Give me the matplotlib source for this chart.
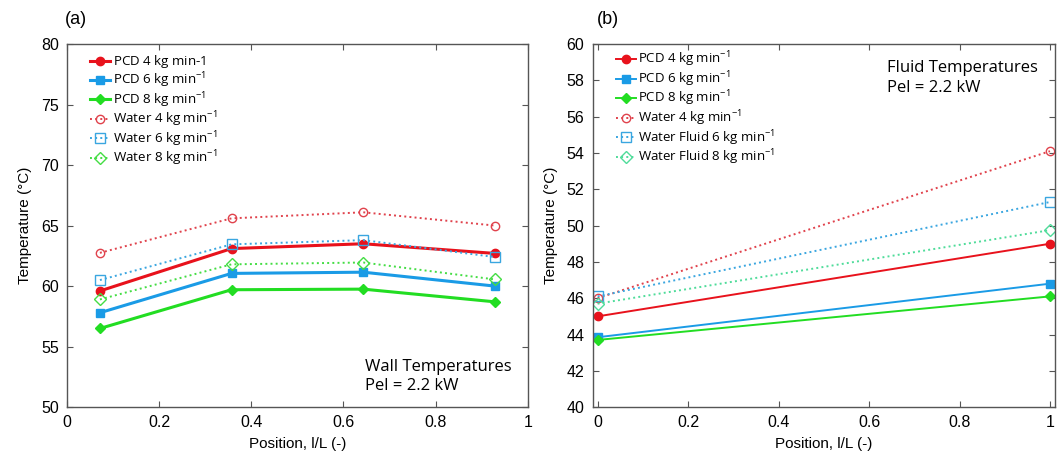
import numpy as np
import matplotlib
matplotlib.use('Agg')
import matplotlib.pyplot as plt

plt.rcParams['font.family'] = ['Liberation Sans', 'DejaVu Sans']
plt.rcParams['mathtext.fontset'] = 'custom'
plt.rcParams['mathtext.rm'] = 'Open Sans'
plt.rcParams['mathtext.it'] = 'Open Sans'

# wall temperatures along the tube (a)
pos_wall = [0.0714, 0.357, 0.643, 0.929]
pcd4_wall = [59.6, 63.1, 63.5, 62.7]
pcd6_wall = [57.8, 61.05, 61.15, 60.0]
pcd8_wall = [56.5, 59.7, 59.75, 58.7]
water4_wall = [62.75, 65.6, 66.1, 65.0]
water6_wall = [60.5, 63.45, 63.8, 62.4]
water8_wall = [58.9, 61.8, 61.95, 60.55]

# fluid temperatures, inlet and outlet (b)
pos_fluid = [0, 1]
pcd4_fluid = [45.0, 49.0]
pcd6_fluid = [43.85, 46.8]
pcd8_fluid = [43.7, 46.1]
water4_fluid = [46.0, 54.1]
water6_fluid = [46.1, 51.3]
water8_fluid = [45.7, 49.75]

# empty superscript on the first label keeps the row height equal to the others
labels_a = ['PCD 4 kg min-1$^{\\ }$', 'PCD 6 kg min$^{-1}$', 'PCD 8 kg min$^{-1}$',
            'Water 4 kg min$^{-1}$', 'Water 6 kg min$^{-1}$', 'Water 8 kg min$^{-1}$']
labels_b = ['PCD 4 kg min$^{-1}$', 'PCD 6 kg min$^{-1}$', 'PCD 8 kg min$^{-1}$',
            'Water 4 kg min$^{-1}$', 'Water Fluid 6 kg min$^{-1}$', 'Water Fluid 8 kg min$^{-1}$']

red = '#e8121c'
blue = '#1a9be6'
green = '#22dd22'
red_w = '#e0424c'
blue_w = '#3aa6e0'
green_a = '#44dd44'
green_b = '#4fdc9a'

fig = plt.figure(figsize=(10.64, 4.59), dpi=100)
ax1 = fig.add_axes([0.063, 0.113, 0.433, 0.791])
ax2 = fig.add_axes([0.557, 0.113, 0.4345, 0.791])

def style(ax):
    for s in ax.spines.values():
        s.set_color('#555555')
        s.set_linewidth(1.0)
    ax.tick_params(direction='in', top=True, right=True, length=4, width=0.8,
                   color='#555555', labelsize=11.5, pad=6)
    ax.set_xlabel('Position, l/L (-)', fontsize=11, labelpad=5)
    ax.set_ylabel('Temperature (°C)', fontsize=11, labelpad=6)

# panel (a)
ax1.plot(pos_wall, pcd4_wall, '-', color=red, lw=2.2, marker='o', ms=6, label=labels_a[0])
ax1.plot(pos_wall, pcd6_wall, '-', color=blue, lw=2.2, marker='s', ms=6, label=labels_a[1])
ax1.plot(pos_wall, pcd8_wall, '-', color=green, lw=2.2, marker='D', ms=5.5, label=labels_a[2])
ax1.plot(pos_wall, water4_wall, ':', color=red_w, lw=1.4, marker='o', ms=6, mfc='none', label=labels_a[3])
ax1.plot(pos_wall, water6_wall, ':', color=blue_w, lw=1.4, marker='s', ms=6.5, mfc='none', label=labels_a[4])
ax1.plot(pos_wall, water8_wall, ':', color=green_a, lw=1.4, marker='D', ms=6, mfc='none', label=labels_a[5])
ax1.set_xlim(0, 1)
ax1.set_ylim(50, 80)
ax1.set_xticks(np.arange(0, 1.01, 0.2))
ax1.set_xticklabels(['0', '0.2', '0.4', '0.6', '0.8', '1'])
ax1.set_yticks(np.arange(50, 81, 5))
style(ax1)
ax1.legend(loc='upper left', frameon=False, prop={'family': 'Open Sans', 'size': 9.6},
           handlelength=1.5, handletextpad=0.2, labelspacing=0.0,
           borderaxespad=0.3, bbox_to_anchor=(0.03, 1.0))
ax1.text(0.646, 0.035, 'Wall Temperatures\nPel = 2.2 kW', transform=ax1.transAxes,
         family='Open Sans', fontsize=12, linespacing=1.3, va='bottom')
fig.text(0.061, 0.948, '(a)', fontsize=13)

# panel (b)
ax2.plot(pos_fluid, pcd4_fluid, '-', color=red, lw=1.4, marker='o', ms=6, label=labels_b[0])
ax2.plot(pos_fluid, pcd6_fluid, '-', color=blue, lw=1.4, marker='s', ms=6, label=labels_b[1])
ax2.plot(pos_fluid, pcd8_fluid, '-', color=green, lw=1.4, marker='D', ms=5.5, label=labels_b[2])
ax2.plot(pos_fluid, water4_fluid, ':', color=red_w, lw=1.4, marker='o', ms=6, mfc='none', label=labels_b[3])
ax2.plot(pos_fluid, water6_fluid, ':', color=blue_w, lw=1.4, marker='s', ms=6.5, mfc='none', label=labels_b[4])
ax2.plot(pos_fluid, water8_fluid, ':', color=green_b, lw=1.4, marker='D', ms=6, mfc='none', label=labels_b[5])
ax2.set_xlim(-0.011, 1.011)
ax2.set_ylim(40, 60)
ax2.set_xticks(np.arange(0, 1.01, 0.2))
ax2.set_xticklabels(['0', '0.2', '0.4', '0.6', '0.8', '1'])
ax2.set_yticks(np.arange(40, 61, 2))
style(ax2)
ax2.legend(loc='upper left', frameon=False, prop={'family': 'Open Sans', 'size': 9.5},
           handlelength=1.5, handletextpad=0.2, labelspacing=0.0,
           borderaxespad=0.3, bbox_to_anchor=(0.03, 1.01))
ax2.text(0.637, 0.955, 'Fluid Temperatures\nPel = 2.2 kW', transform=ax2.transAxes,
         family='Open Sans', fontsize=12, linespacing=1.3, va='top')
fig.text(0.561, 0.948, '(b)', fontsize=13)

fig.savefig('out.png', dpi=100)
